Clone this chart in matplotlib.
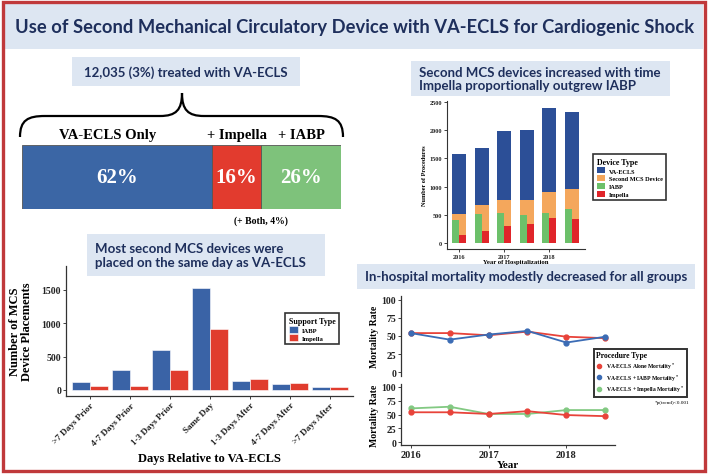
import matplotlib.pyplot as plt
from matplotlib.patches import Rectangle, PathPatch
from matplotlib.path import Path
from matplotlib.lines import Line2D

W, H = 709, 477

# top-left: share of VA-ECLS patients by second device
split_labels = ['VA-ECLS Only', '+ Impella', '+ IABP']
split_pct = [62, 16, 26]

# top-right: procedures per half-year
years = [2016, 2016.5, 2017, 2017.5, 2018, 2018.5]
ecls_total = [1580, 1690, 1980, 2000, 2400, 2330]
second_mcs = [520, 670, 760, 760, 900, 960]
iabp_n = [400, 510, 540, 500, 540, 610]
impella_n = [150, 220, 310, 330, 440, 420]

# bottom-left: timing of second device
timing = ['>7 Days Prior', '4-7 Days Prior', '1-3 Days Prior', 'Same Day',
          '1-3 Days After', '4-7 Days After', '>7 Days After']
timing_iabp = [120, 300, 600, 1530, 130, 95, 40]
timing_impella = [60, 60, 300, 915, 160, 110, 40]

# bottom-right: mortality
mort_alone = [54, 54, 51, 56, 49, 47]
mort_iabp = [54, 45, 52, 57, 41, 49]
mort_impella = [61, 64, 51, 51, 58, 58]

NAVY = '#1e2f5c'
BOXC = '#dde6f2'
SANS = 'Lato'

plt.rcParams['font.family'] = ['Liberation Serif', 'DejaVu Sans']
plt.rcParams['font.weight'] = 'bold'
plt.rcParams['axes.labelweight'] = 'bold'
plt.rcParams['mathtext.default'] = 'bf'

fig = plt.figure(figsize=(W / 100, H / 100), dpi=100)


def px_axes(x0, y0, x1, y1, **kw):
    return fig.add_axes([x0 / W, 1 - y1 / H, (x1 - x0) / W, (y1 - y0) / H], **kw)


def classic(ax, fs, lw=0.9):
    for s in ['top', 'right']:
        ax.spines[s].set_visible(False)
    for s in ['left', 'bottom']:
        ax.spines[s].set_linewidth(lw)
        ax.spines[s].set_color('#333333')
    ax.tick_params(labelsize=fs, width=0.6, length=2, pad=1.5, colors='#222222')
    ax.set_facecolor('none')


bg = px_axes(0, 0, W, H, zorder=0)
bg.set_xlim(0, W)
bg.set_ylim(H, 0)
bg.axis('off')

# frame + title bar
bg.add_patch(Rectangle((5, 5), 698, 45, color=BOXC, lw=0))
bg.add_patch(Rectangle((3, 3), 702, 469, fill=False, ec='#c0393b', lw=2.4))
bg.text(355, 27, 'Use of Second Mechanical Circulatory Device with VA-ECLS for Cardiogenic Shock',
        ha='center', va='center', fontsize=13.2, family=SANS, weight='bold', color=NAVY)

# panel title boxes
boxes = [
    ((72, 58, 300, 87), '12,035 (3%) treated with VA-ECLS', 'center'),
    ((411, 62, 670, 97), 'Second MCS devices increased with time\nImpella proportionally outgrew IABP', 'left'),
    ((87, 235, 325, 277), 'Most second MCS devices were\nplaced on the same day as VA-ECLS', 'left'),
    ((357, 265, 695, 290), 'In-hospital mortality modestly decreased for all groups', 'center'),
]
for (x0, y0, x1, y1), txt, al in boxes:
    bg.add_patch(Rectangle((x0, y0), x1 - x0, y1 - y0, color=BOXC, lw=0))
    tx = (x0 + x1) / 2 if al == 'center' else x0 + 8
    bg.text(tx, (y0 + y1) / 2, txt, ha=al, va='center', fontsize=9.5, family=SANS,
            weight='bold', color=NAVY, linespacing=1.15)

# curly brace
verts = [(20, 138), (20, 121), (28, 117), (45, 117), (160, 117), (176, 117), (182, 111), (182, 94),
         (182, 111), (188, 117), (204, 117), (318, 117), (335, 117), (343, 121), (343, 138)]
codes = [Path.MOVETO, Path.CURVE4, Path.CURVE4, Path.CURVE4, Path.LINETO,
         Path.CURVE4, Path.CURVE4, Path.CURVE4, Path.CURVE4, Path.CURVE4, Path.CURVE4,
         Path.LINETO, Path.CURVE4, Path.CURVE4, Path.CURVE4]
bg.add_patch(PathPatch(Path(verts, codes), fill=False, lw=1.6, ec='black'))

# ---- panel 1: split bar
ax1 = px_axes(22, 146, 341, 210)
cols1 = ['#3b66a5', '#e23b2e', '#7ec27b']
left = 0
for lab, v, c in zip(split_labels, split_pct, cols1):
    ax1.barh(0, v, left=left, height=1, color=c, ec='#555555', lw=0.6)
    ax1.text(left + v / 2, 0, f'{v}%', ha='center', va='center', color='white',
             fontsize=15, weight='bold')
    ax1.text(left + v / 2 - (3 if left == 0 else 0), 0.56, lab, ha='center', va='bottom',
             fontsize=10.5, weight='bold')
    left += v
ax1.text(split_pct[0] + split_pct[1], -0.6, '(+ Both, 4%)', ha='center', va='top',
         fontsize=7, weight='bold')
ax1.set_xlim(0, left)
ax1.set_ylim(-0.5, 0.5)
ax1.axis('off')

# ---- panel 2: stacked-ish bars by year
ax2 = px_axes(447, 102, 585, 250)
bw = 0.31
ax2.bar(years, ecls_total, width=bw, color='#2c4f97', label='VA-ECLS')
ax2.bar(years, second_mcs, width=bw, color='#f4a75c', label='Second MCS Device')
ax2.bar([y - bw / 4 for y in years], iabp_n, width=bw / 2, color='#6cc06a', label='IABP')
ax2.bar([y + bw / 4 for y in years], impella_n, width=bw / 2, color='#e0252a', label='Impella')
ax2.set_xlim(2015.735, 2018.79)
ax2.set_ylim(-106, 2520)
ax2.set_xticks([2016, 2017, 2018])
ax2.set_yticks([0, 500, 1000, 1500, 2000, 2500])
classic(ax2, 4.5, lw=0.8)
ax2.set_ylabel('Number of Procedures', fontsize=4.5, labelpad=2)
ax2.set_xlabel('Year of Hospitalization', fontsize=4.8, labelpad=0)
h2, l2 = ax2.get_legend_handles_labels()
lg2 = fig.legend(h2, l2, loc='upper left', bbox_to_anchor=(590 / W, 1 - 152 / H),
                 title='Device Type', fontsize=4.5, title_fontsize=5.8, frameon=True,
                 fancybox=False, edgecolor='black', handlelength=1.3, handleheight=1.1,
                 borderpad=0.6, labelspacing=0.25, handletextpad=0.6)
lg2.get_frame().set_linewidth(1.2)
lg2._legend_box.align = 'left'

# ---- panel 3: grouped bars by timing
ax3 = px_axes(66, 267, 353, 397)
idx = list(range(len(timing)))
ax3.bar([i - 0.225 for i in idx], timing_iabp, width=0.45, color='#3a63a6', ec='white', lw=0.4,
        label='IABP')
ax3.bar([i + 0.225 for i in idx], timing_impella, width=0.45, color='#e03c2e', ec='white', lw=0.4,
        label='Impella')
ax3.set_xlim(-0.6, 6.575)
ax3.set_ylim(-90, 1860)
ax3.set_yticks([0, 500, 1000, 1500])
ax3.set_xticks(idx)
ax3.set_xticklabels(timing, rotation=45, ha='right', rotation_mode='anchor')
classic(ax3, 7)
ax3.tick_params(axis='x', labelsize=6.6)
ax3.set_ylabel('Number of MCS\nDevice Placements', fontsize=9, labelpad=6, linespacing=1.0)
ax3.set_xlabel('Days Relative to VA-ECLS', fontsize=9)
ax3.xaxis.set_label_coords(0.5, -0.43)
h3, l3 = ax3.get_legend_handles_labels()
lg3 = fig.legend(h3, l3, loc='upper left', bbox_to_anchor=(282 / W, 1 - 311 / H),
                 title='Support Type', fontsize=4.8, title_fontsize=5.8, frameon=True,
                 fancybox=False, edgecolor='black', handlelength=1.4, handleheight=1.2,
                 borderpad=0.5, labelspacing=0.2, handletextpad=0.5)
lg3.get_frame().set_linewidth(1.2)
lg3._legend_box.align = 'left'

# ---- panel 4: mortality lines
RED, BLUE, GREEN = '#e8433a', '#3b6cb5', '#82c982'
ax4a = px_axes(401, 297, 615, 377)
ax4b = px_axes(401, 385, 615, 446)
ax4a.plot(years, mort_alone, '-o', color=RED, lw=1.3, ms=3.5)
ax4a.plot(years, mort_iabp, '-o', color=BLUE, lw=1.3, ms=3.5)
ax4b.plot(years, mort_impella, '-o', color=GREEN, lw=1.3, ms=3.5)
ax4b.plot(years, mort_alone, '-o', color=RED, lw=1.3, ms=3.5)
for a in (ax4a, ax4b):
    a.set_xlim(2015.875, 2018.625)
    a.set_ylim(-5, 105)
    a.set_yticks([0, 25, 50, 75, 100])
    a.set_xticks([2016, 2017, 2018])
    classic(a, 7)
    a.set_ylabel('Mortality Rate', fontsize=7, labelpad=2)
ax4a.spines['bottom'].set_visible(False)
ax4a.tick_params(axis='x', bottom=False, labelbottom=False)
ax4b.tick_params(axis='x', labelsize=7.5)
ax4b.set_xlabel('Year', fontsize=8, labelpad=1)

mk = dict(marker='o', ls='none', ms=3)
h4 = [Line2D([], [], color=RED, **mk), Line2D([], [], color=BLUE, **mk),
      Line2D([], [], color=GREEN, **mk)]
l4 = ['VA-ECLS Alone Mortality$^*$', 'VA-ECLS + IABP Mortality$^*$',
      'VA-ECLS + Impella Mortality$^*$']
lg4 = fig.legend(h4, l4, loc='upper left', bbox_to_anchor=(591 / W, 1 - 347 / H),
                 title='Procedure Type', fontsize=4.1, title_fontsize=5.5, frameon=True,
                 fancybox=False, edgecolor='black', handlelength=1.1,
                 borderpad=0.4, labelspacing=0.25, handletextpad=0.7)
lg4.get_frame().set_linewidth(1.4)
lg4._legend_box.align = 'left'
bg.text(689, 403, '*p(trend)<0.001', ha='right', va='center', fontsize=3.8, weight='normal')

fig.savefig('out.png', dpi=100)
